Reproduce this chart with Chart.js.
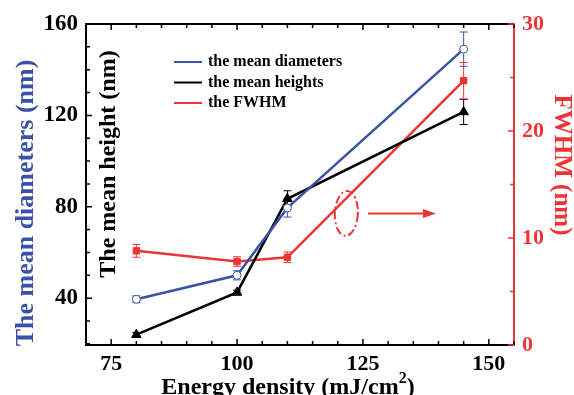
<!DOCTYPE html>
<html>
<head>
<meta charset="utf-8">
<script src="https://cdn.jsdelivr.net/npm/chart.js@4.4.1/dist/chart.umd.min.js"></script>
<style>
  body { margin: 0; background: #fff; }
  #wrap { width: 574px; height: 395px; position: relative; }
</style>
</head>
<body>
<div id="wrap"><canvas id="chart"></canvas></div>
<script>
// data
var energy = [80, 100, 110, 145];
var diameters = [39.5, 50, 79.5, 149];
var diameterErr = [1.5, 2, 4, 7.5];
var heights = [24, 42.5, 83.5, 121.5];
var heightErr = [1, 1, 3.5, 5.5];
var fwhm = [8.8, 7.8, 8.2, 24.7];
var fwhmErr = [0.6, 0.45, 0.5, 1.7];

var xTicks = [75, 100, 125, 150];
var leftTicks = [40, 80, 120, 160];
var rightTicks = [0, 10, 20, 30];

var BLUE = '#3b52a6';
var RED = '#ee3535';
var BLACK = '#000000';
var FONT = '"Liberation Serif", "Times New Roman", serif';

function pts(xs, ys) {
    return xs.map(function (x, i) { return { x: x, y: ys[i] }; });
}

var errors = [diameterErr, heightErr, fwhmErr];

var decor = {
    id: 'decor',
    beforeDatasetsDraw: function (chart) {
        var c = chart.ctx;
        chart.data.datasets.forEach(function (ds, i) {
            var xs = chart.scales.x;
            var ys = chart.scales[ds.yAxisID];
            c.save();
            c.strokeStyle = ds.borderColor;
            c.lineWidth = 1;
            ds.data.forEach(function (p, j) {
                var px = xs.getPixelForValue(p.x);
                var t = ys.getPixelForValue(p.y + errors[i][j]);
                var b = ys.getPixelForValue(p.y - errors[i][j]);
                c.beginPath();
                c.moveTo(px, t); c.lineTo(px, b);
                c.moveTo(px - 4, t); c.lineTo(px + 4, t);
                c.moveTo(px - 4, b); c.lineTo(px + 4, b);
                c.stroke();
            });
            c.restore();
        });
    },
    afterDraw: function (chart) {
        var c = chart.ctx;
        var a = chart.chartArea;
        var xs = chart.scales.x, yl = chart.scales.y, yr = chart.scales.y2;
        c.save();
        // frame
        c.lineWidth = 2;
        c.strokeStyle = BLACK;
        c.beginPath();
        c.moveTo(a.right, a.top); c.lineTo(a.left, a.top);
        c.lineTo(a.left, a.bottom); c.lineTo(a.right, a.bottom);
        c.stroke();
        c.strokeStyle = RED;
        c.beginPath();
        c.moveTo(a.right, a.top - 1); c.lineTo(a.right, a.bottom + 1);
        c.stroke();

        // x ticks (bottom and top, inward)
        c.lineWidth = 1.5;
        c.strokeStyle = BLACK;
        c.beginPath();
        for (var v = 70; v <= 155; v += 5) {
            var px = xs.getPixelForValue(v);
            var len = (v % 25 === 0) ? 6 : 4;
            c.moveTo(px, a.bottom); c.lineTo(px, a.bottom - len);
            c.moveTo(px, a.top); c.lineTo(px, a.top + len);
        }
        // left ticks
        for (var w = 20; w <= 160; w += 10) {
            var py = yl.getPixelForValue(w);
            var l2 = (w % 40 === 0) ? 6 : 4;
            c.moveTo(a.left, py); c.lineTo(a.left + l2, py);
        }
        c.stroke();
        // right ticks
        c.strokeStyle = RED;
        c.beginPath();
        for (var r = 0; r <= 30; r += 5) {
            var ry = yr.getPixelForValue(r);
            var l3 = (r % 10 === 0) ? 6 : 4;
            c.moveTo(a.right, ry); c.lineTo(a.right - l3, ry);
        }
        c.stroke();

        // axis titles
        c.textAlign = 'center';
        c.textBaseline = 'middle';
        c.font = 'bold 26px ' + FONT;
        c.fillStyle = BLUE;
        c.save();
        c.translate(26, 203);
        c.rotate(-Math.PI / 2);
        c.fillText('The mean diameters (nm)', 0, 0);
        c.restore();

        c.font = 'bold 24px ' + FONT;
        c.fillStyle = BLACK;
        c.save();
        c.translate(109, 164);
        c.rotate(-Math.PI / 2);
        c.fillText('The mean height (nm)', 0, 0);
        c.restore();

        c.font = 'bold 25px ' + FONT;
        c.fillStyle = RED;
        c.save();
        c.translate(561, 165);
        c.rotate(Math.PI / 2);
        c.fillText('FWHM (nm)', 0, 0);
        c.restore();

        c.fillStyle = BLACK;
        c.textAlign = 'left';
        c.font = 'bold 24px ' + FONT;
        var t1 = 'Energy density (mJ/cm';
        var w1 = c.measureText(t1).width;
        c.font = 'bold 16px ' + FONT;
        var w2 = c.measureText('2').width;
        c.font = 'bold 24px ' + FONT;
        var w3 = c.measureText(')').width;
        var x0 = 288 - (w1 + w2 + w3) / 2;
        c.fillText(t1, x0, 388);
        c.font = 'bold 16px ' + FONT;
        c.fillText('2', x0 + w1, 379);
        c.font = 'bold 24px ' + FONT;
        c.fillText(')', x0 + w1 + w2, 388);

        // legend
        var items = [['the mean diameters', BLUE], ['the mean heights', BLACK], ['the FWHM', RED]];
        c.font = 'bold 16px ' + FONT;
        items.forEach(function (it, k) {
            var y = 62 + k * 20.5;
            c.strokeStyle = it[1];
            c.lineWidth = 2;
            c.beginPath();
            c.moveTo(174, y); c.lineTo(202, y);
            c.stroke();
            c.fillStyle = BLACK;
            c.fillText(it[0], 208, y);
        });

        // dashed ellipse around the FWHM line and arrow to the right axis
        var ex = xs.getPixelForValue(121.7), ey = yr.getPixelForValue(12.3);
        c.strokeStyle = RED;
        c.lineWidth = 2;
        c.setLineDash([8, 3, 2, 3]);
        c.beginPath();
        c.ellipse(ex, ey, 11.5, 22.5, 0.05, 0, Math.PI * 2);
        c.stroke();
        c.setLineDash([]);
        var ax0 = xs.getPixelForValue(126), ax1 = xs.getPixelForValue(139.5);
        c.beginPath();
        c.moveTo(ax0, ey); c.lineTo(ax1 - 10, ey);
        c.stroke();
        c.fillStyle = RED;
        c.beginPath();
        c.moveTo(ax1, ey); c.lineTo(ax1 - 13, ey - 4.5); c.lineTo(ax1 - 13, ey + 4.5);
        c.closePath();
        c.fill();
        c.restore();
    }
};

var chart = new Chart(document.getElementById('chart'), {
    type: 'line',
    data: {
        datasets: [
            {
                label: 'the mean diameters',
                data: pts(energy, diameters),
                yAxisID: 'y',
                borderColor: BLUE,
                backgroundColor: '#ffffff',
                borderWidth: 2.5,
                pointStyle: 'circle',
                pointRadius: 4,
                pointBorderWidth: 1,
                pointBorderColor: BLUE,
                pointBackgroundColor: '#ffffff'
            },
            {
                label: 'the mean heights',
                data: pts(energy, heights),
                yAxisID: 'y',
                borderColor: BLACK,
                backgroundColor: BLACK,
                borderWidth: 2.5,
                pointStyle: 'triangle',
                pointRadius: 5.5,
                pointBorderWidth: 1,
                pointBackgroundColor: BLACK
            },
            {
                label: 'the FWHM',
                data: pts(energy, fwhm),
                yAxisID: 'y2',
                borderColor: RED,
                backgroundColor: RED,
                borderWidth: 2.5,
                pointStyle: 'rect',
                pointRadius: 4.5,
                pointBorderWidth: 1,
                pointBackgroundColor: RED
            }
        ]
    },
    options: {
        responsive: true,
        maintainAspectRatio: false,
        animation: false,
        layout: { padding: { top: 24, left: 0, right: 0, bottom: 0 } },
        plugins: {
            legend: { display: false },
            tooltip: { enabled: false }
        },
        scales: {
            x: {
                type: 'linear',
                min: 70,
                max: 155,
                grid: { display: false, drawTicks: false },
                border: { display: false },
                afterBuildTicks: function (s) { s.ticks = xTicks.map(function (v) { return { value: v }; }); },
                afterFit: function (s) { s.height = 50; },
                ticks: {
                    padding: 6,
                    color: BLACK,
                    font: { family: FONT, size: 22, weight: 'bold' }
                }
            },
            y: {
                position: 'left',
                min: 19.5,
                max: 160,
                grid: { display: false, drawTicks: false },
                border: { display: false },
                afterBuildTicks: function (s) { s.ticks = leftTicks.map(function (v) { return { value: v }; }); },
                afterFit: function (s) { s.width = 86; },
                ticks: {
                    padding: 8,
                    color: BLACK,
                    font: { family: FONT, size: 23, weight: 'bold' }
                }
            },
            y2: {
                position: 'right',
                min: 0,
                max: 30,
                grid: { display: false, drawTicks: false },
                border: { display: false },
                afterBuildTicks: function (s) { s.ticks = rightTicks.map(function (v) { return { value: v }; }); },
                afterFit: function (s) { s.width = 60; },
                ticks: {
                    padding: 8,
                    color: RED,
                    font: { family: FONT, size: 22, weight: 'bold' }
                }
            }
        }
    },
    plugins: [decor]
});
</script>
</body>
</html>
